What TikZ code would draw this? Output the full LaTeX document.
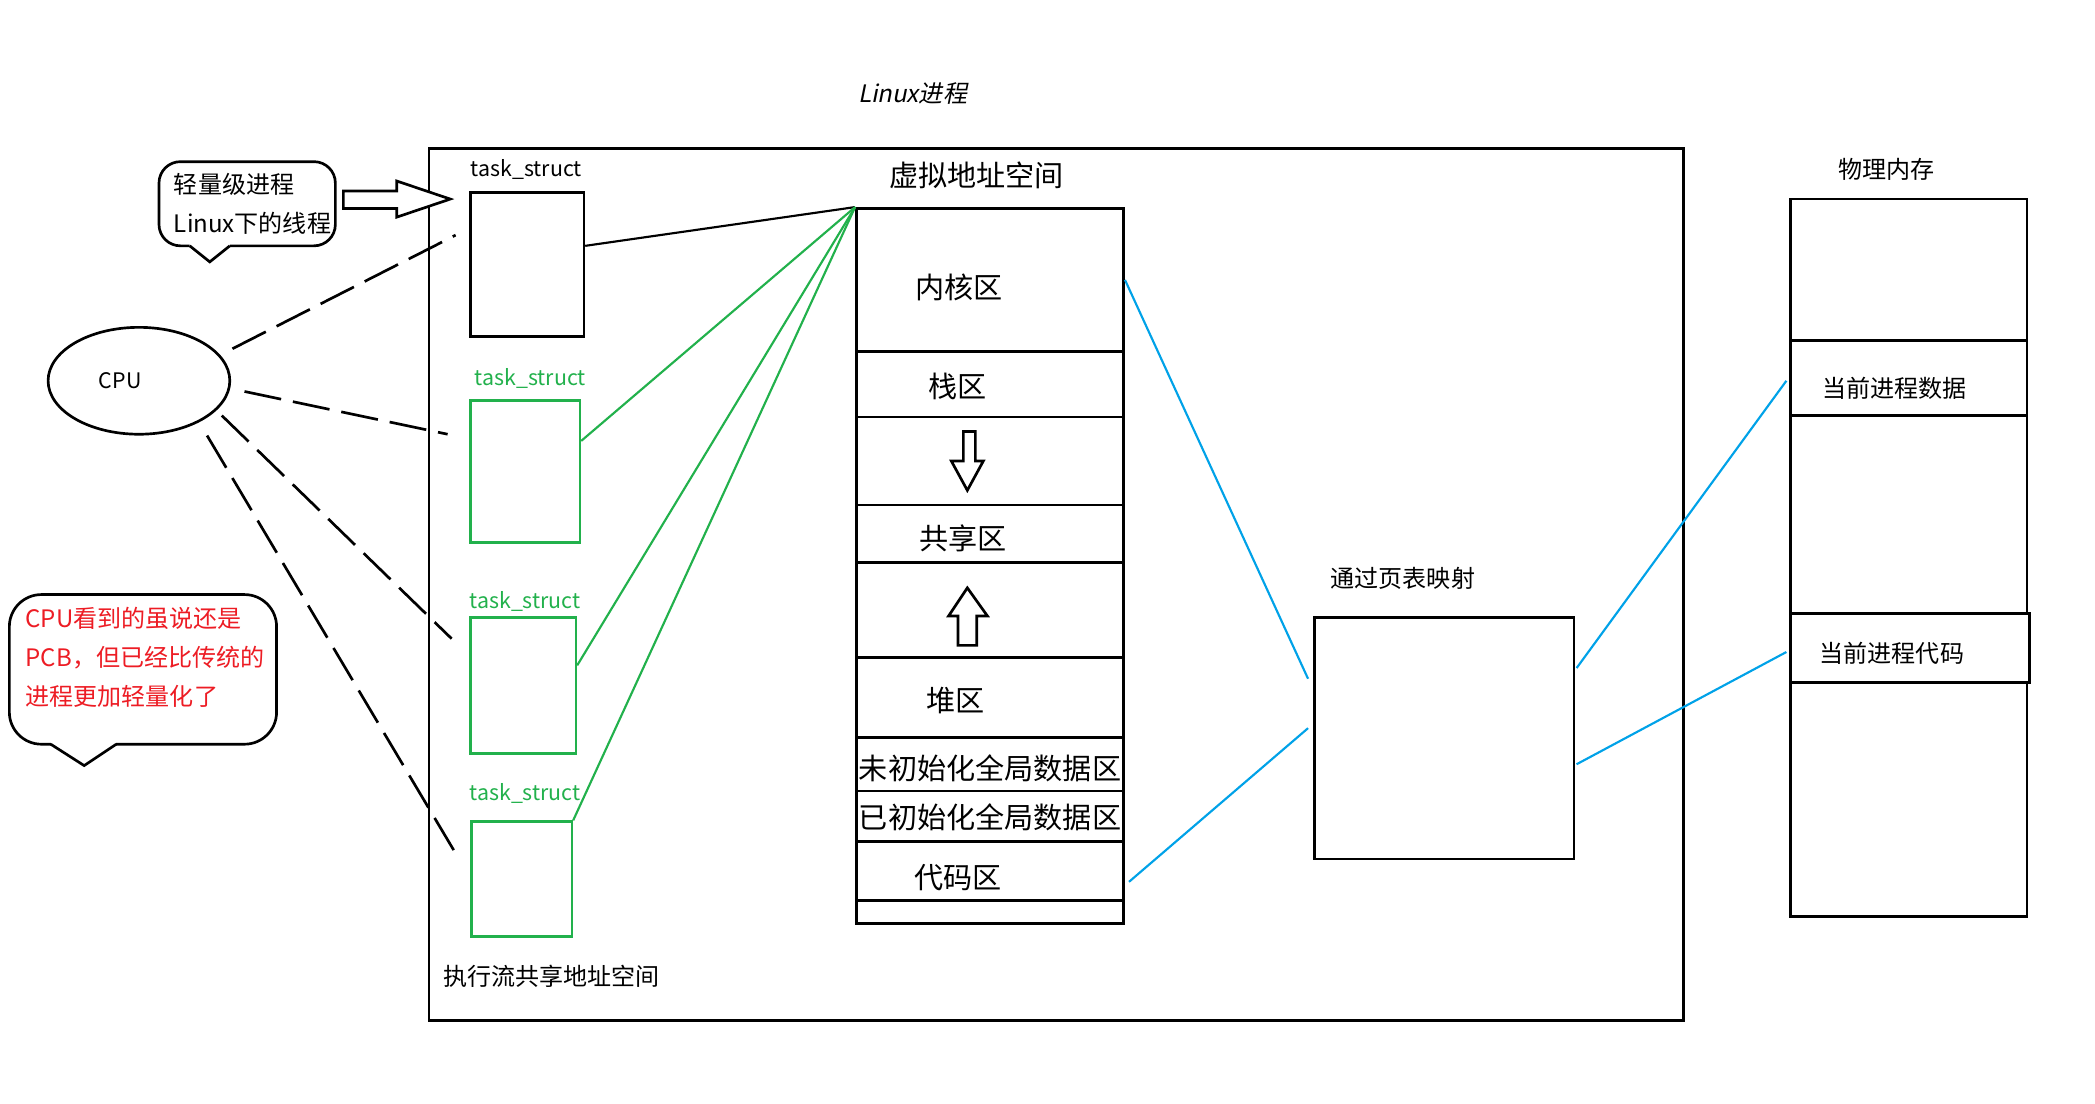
\documentclass[tikz,border=0pt]{standalone}
\usepackage{fontspec}
\setmainfont{Noto Sans CJK SC}
\newfontfamily\slantfont[FakeSlant=0.2]{Noto Sans CJK SC}
\usetikzlibrary{calc,shapes.geometric}
\definecolor{pgreen}{HTML}{22B14C}
\definecolor{pblue}{HTML}{00A2E8}
\definecolor{pred}{HTML}{ED1C24}
\begin{document}
\begin{tikzpicture}[x=1pt,y=-1pt,
  blk/.style={draw, line width=2pt, inner sep=0pt},
  gbox/.style={draw=pgreen, line width=2pt, inner sep=0pt},
  cell/.style={draw, line width=2pt, inner sep=0pt, minimum width=200pt},
  pcell/.style={draw, line width=2pt, inner sep=0pt, minimum width=177pt},
  txt/.style={inner sep=0pt, font=\fontsize{18}{20}\selectfont},
  big/.style={inner sep=0pt, font=\fontsize{21.8}{23}\selectfont},
  small/.style={inner sep=0pt, font=\fontsize{16}{18}\selectfont},
  gtxt/.style={small, text=pgreen},
  rtxt/.style={txt, text=pred, anchor=west},
  dashln/.style={line width=2pt, dash pattern=on 28pt off 9pt},
  gln/.style={draw=pgreen, line width=1.6pt},
  bln/.style={draw=pblue, line width=1.6pt},
  hollow/.style={draw, line width=2pt, fill=white, line join=miter}
]
\useasboundingbox[fill=white] (0,0) rectangle (1568,826);

% title
\node[inner sep=0pt, font=\fontsize{18}{20}\selectfont\slantfont] (title) at (683,70) {Linux进程};

% main frame
\node[blk, minimum width=939pt, minimum height=653pt] (main) at (790.5,437.5) {};

% bubble 1
\draw[line width=2pt, rounded corners=16pt] (142,184) -- (119,184) -- (119,121) -- (251,121) -- (251,184) -- (172,184);
\draw[line width=2pt, line join=miter] (172,184) -- (157,196) -- (142,184);
\node[txt, anchor=west] (b1a) at (130,138) {轻量级进程};
\node[txt, anchor=west] (b1b) at (130,167) {Linux下的线程};
\draw[hollow] (257,143) -- (297,143) -- (297,135.5) -- (337,149) -- (297,162.5) -- (297,156) -- (257,156) -- cycle;

% red bubble
\draw[line width=2pt, rounded corners=24pt] (38,557) -- (7,557) -- (7,445) -- (207,445) -- (207,557) -- (87,557);
\draw[line width=2pt, line join=miter] (87,557) -- (63,573) -- (38,557);
\node[rtxt] (r1) at (19,463) {CPU看到的虽说还是};
\node[rtxt] (r2) at (19,492) {PCB，但已经比传统的};
\node[rtxt] (r3) at (19,521) {进程更加轻量化了};

% CPU
\node[draw, ellipse, line width=2pt, minimum width=136pt, minimum height=80pt, inner sep=0pt] (cpu) at (104,285) {};
\node[small] (cpul) at (90,285) {CPU};

% task_structs
\node[small] (l1) at (394,127) {task\_struct};
\node[blk, minimum width=85pt, minimum height=108pt] (ts1) at (394.5,198) {};
\node[gtxt] (l2) at (397,283) {task\_struct};
\node[gbox, minimum width=82pt, minimum height=106pt] (ts2) at (393,353) {};
\node[gtxt] (l3) at (393,450) {task\_struct};
\node[gbox, minimum width=79pt, minimum height=102pt] (ts3) at (391.5,513) {};
\node[gtxt] (l4) at (393,594) {task\_struct};
\node[gbox, minimum width=75pt, minimum height=86pt] (ts4) at (390.5,658) {};
\node[txt] (share) at (413,731) {执行流共享地址空间};

% dashed CPU links
\draw[dashln] ($(cpu.east)+(1,-24)$) -- ($(ts1.west)+(-10,-22)$);
\draw[dashln] ($(cpu.east)+(10,8)$) -- ($(ts2.west)+(-16,-28)$);
\draw[dashln] ($(cpu.center)+(62,26)$) -- ($(ts3.west)+(-13,-35)$);
\draw[dashln] ($(cpu.center)+(51,41)$) -- ($(ts4.west)+(-9,-16)$);

% virtual address space
\node[big] (vas) at (731,131) {虚拟地址空间};
\node[cell, minimum height=107pt] (kern) at (741,209.5) {};
\node[cell, minimum height=49pt] (stk) at (741,287.5) {};
\node[cell, minimum height=66pt] (gap1) at (741,345) {};
\node[cell, minimum height=43pt] (shr) at (741,399.5) {};
\node[cell, minimum height=71pt] (gap2) at (741,456.5) {};
\node[cell, minimum height=60pt] (heap) at (741,522) {};
\node[cell, minimum height=40pt] (bss) at (741,572) {};
\node[cell, minimum height=38pt] (dat) at (741,611) {};
\node[cell, minimum height=44pt] (code) at (741,652) {};
\node[cell, minimum height=17pt] (last) at (741,682.5) {};
\node[big] (tk) at (718,215) {内核区};
\node[big] (ts) at (717,289) {栈区};
\node[big] (tsh) at (721,403) {共享区};
\node[big] (th) at (715,524) {堆区};
\node[big] (tb) at (741,575) {未初始化全局数据区};
\node[big] (td) at (741,612) {已初始化全局数据区};
\node[big] (tc) at (717,657) {代码区};
\draw[hollow] (721,323) -- (730,323) -- (730,345) -- (736,345) -- (724,367) -- (712,345) -- (721,345) -- cycle;
\draw[hollow] (724,440) -- (739,461) -- (731,461) -- (731,483) -- (717,483) -- (717,461) -- (710,461) -- cycle;

% links task_struct -> vas
\draw[line width=1.6pt] ($(ts1.east)+(0,-14)$) -- (kern.north west);
\draw[gln] ($(ts2.east)+(0,-23)$) -- (kern.north west);
\draw[gln] ($(ts3.east)+(0,-15)$) -- (kern.north west);
\draw[gln] (ts4.north east) -- (kern.north west);

% page table
\node[txt] (ptl) at (1050,433) {通过页表映射};
\node[blk, minimum width=194pt, minimum height=181pt] (pt) at (1081,552.5) {};

% physical memory
\node[txt] (pml) at (1412,127) {物理内存};
\node[pcell, minimum height=106pt] (pm1) at (1428.5,202) {};
\node[pcell, minimum height=56pt] (pmdata) at (1428.5,283) {};
\node[pcell, minimum height=148pt] (pm2) at (1428.5,385) {};
\node[pcell, minimum width=179pt, minimum height=52pt] (pmcode) at (1429.5,485) {};
\node[pcell, minimum height=175pt] (pm3) at (1428.5,598.5) {};
\node[txt] (tpd) at (1418,291) {当前进程数据};
\node[txt] (tpc) at (1416,489) {当前进程代码};

% blue mapping lines
\draw[bln] (kern.east) -- ($(pt.west)+(-4,-44.5)$);
\draw[bln] ($(code.east)+(3,8)$) -- ($(pt.west)+(-4,-7.5)$);
\draw[bln] ($(pt.east)+(1,-52.5)$) -- ($(pmdata.west)+(-2,2)$);
\draw[bln] ($(pt.east)+(1,19.5)$) -- ($(pmcode.west)+(-2,3)$);
\end{tikzpicture}
\end{document}
